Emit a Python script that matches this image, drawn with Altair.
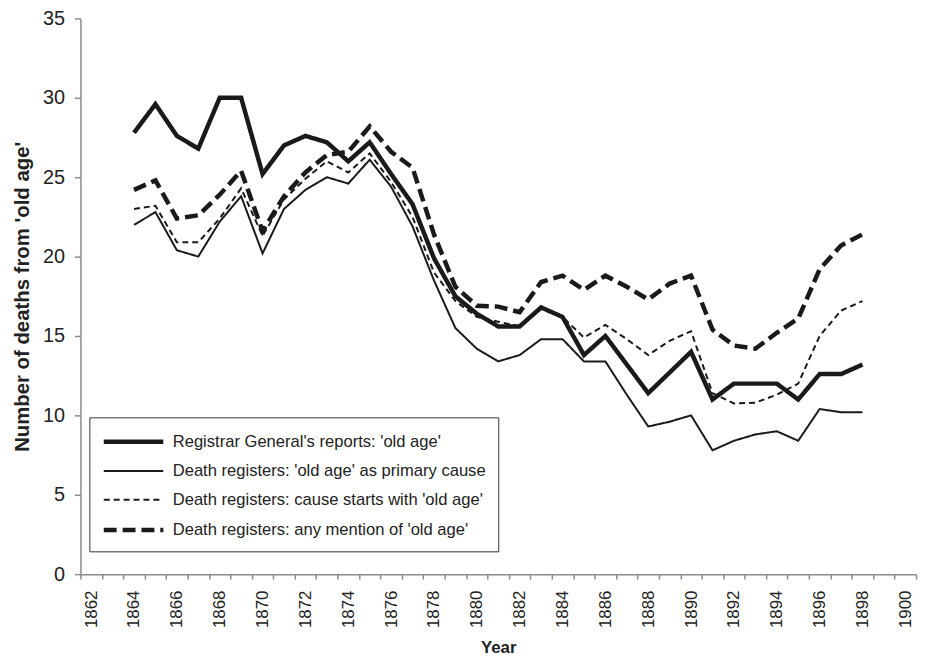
import altair as alt
import pandas as pd

years = list(range(1864, 1899))

series_names = [
    "Registrar General's reports: 'old age'",
    "Death registers: 'old age' as primary cause",
    "Death registers: cause starts with 'old age'",
    "Death registers: any mention of 'old age'",
]

registrar = [27.8, 29.6, 27.6, 26.8, 30.0, 30.0, 25.2, 27.0, 27.6, 27.2, 26.0, 27.2,
             25.2, 23.3, 19.9, 17.5, 16.4, 15.6, 15.6, 16.8, 16.2, 13.8, 15.0, 13.2,
             11.4, 12.7, 14.0, 11.0, 12.0, 12.0, 12.0, 11.0, 12.6, 12.6, 13.2]
primary = [22.0, 22.8, 20.4, 20.0, 22.2, 23.8, 20.2, 23.0, 24.2, 25.0, 24.6, 26.1,
           24.4, 21.9, 18.5, 15.5, 14.2, 13.4, 13.8, 14.8, 14.8, 13.4, 13.4, 11.3,
           9.3, 9.6, 10.0, 7.8, 8.4, 8.8, 9.0, 8.4, 10.4, 10.2, 10.2]
starts_with = [23.0, 23.2, 20.9, 20.9, 22.4, 24.3, 21.3, 23.6, 24.9, 26.0, 25.3, 26.5,
               24.7, 22.5, 19.0, 17.2, 16.2, 15.9, 15.6, 16.7, 16.2, 14.9, 15.7, 14.8,
               13.8, 14.7, 15.3, 11.4, 10.75, 10.8, 11.3, 12.0, 15.0, 16.6, 17.2]
any_mention = [24.2, 24.8, 22.4, 22.6, 23.9, 25.4, 21.6, 23.8, 25.3, 26.4, 26.6, 28.2,
               26.6, 25.6, 21.4, 18.1, 16.9, 16.85, 16.5, 18.4, 18.8, 17.9, 18.8, 18.1,
               17.3, 18.3, 18.8, 15.4, 14.4, 14.2, 15.2, 16.1, 19.2, 20.7, 21.4]

y_ticks = [0, 5, 10, 15, 20, 25, 30, 35]
x_tick_bounds = [y + 0.5 for y in range(1861, 1901)]

rows = []
for name, vals in zip(series_names, [registrar, primary, starts_with, any_mention]):
    for yr, v in zip(years, vals):
        rows.append({"Year": yr, "Value": v, "Series": name})
df = pd.DataFrame(rows)

FONT = "Liberation Sans"
AXIS_GRAY = "#8c8c8c"
INK = "#1a1a1a"

chart = alt.Chart(df).mark_line(color=INK, strokeCap="butt").encode(
    x=alt.X("Year:Q",
            scale=alt.Scale(domain=[1861.5, 1900.5], nice=False, zero=False),
            axis=alt.Axis(values=x_tick_bounds,
                          labelExpr="(datum.value + 0.5) % 2 == 0 ? format(datum.value + 0.5, 'd') : ''",
                          labelOffset=10.8, labelAngle=270, labelOverlap=False,
                          labelBound=False, labelFlush=False, labelFontSize=17,
                          grid=False, tickSize=5, labelPadding=11,
                          title="Year", titlePadding=12, titleFontSize=17)),
    y=alt.Y("Value:Q",
            scale=alt.Scale(domain=[0, 35], nice=False, zero=True),
            axis=alt.Axis(values=y_ticks, grid=False, tickSize=6, labelPadding=10,
                          labelFontSize=20,
                          title="Number of deaths from 'old age'", titlePadding=10,
                          titleFontSize=20.5)),
    strokeDash=alt.StrokeDash("Series:N",
                              scale=alt.Scale(domain=series_names,
                                              range=[[1, 0], [1, 0], [6, 4], [13, 6]]),
                              legend=alt.Legend(title=None)),
    strokeWidth=alt.StrokeWidth("Series:N",
                                scale=alt.Scale(type="ordinal", domain=series_names,
                                                range=[4.5, 2.0, 2.0, 4.5]),
                                legend=alt.Legend(title=None)),
).properties(
    width=842, height=560,
    autosize=alt.AutoSizeParams(type="none"),
    padding={"left": 73, "top": 8, "right": 5, "bottom": 84},
).configure_view(
    stroke=None
).configure_axis(
    domainColor=AXIS_GRAY, tickColor=AXIS_GRAY, domainWidth=1.5, tickWidth=1.5,
    labelFont=FONT, labelColor="#222222",
    titleFont=FONT, titleFontWeight="bold", titleColor="#222222",
).configure_legend(
    orient="none", legendX=9, legendY=402,
    strokeColor="#333333", fillColor="white", padding=12, cornerRadius=0,
    symbolType="M-1,0H5", symbolSize=400, symbolStrokeColor=INK,
    symbolFillColor="transparent",
    labelFont=FONT, labelFontSize=16.7, labelColor="#222222", labelOffset=47,
    rowPadding=9, labelLimit=600,
)

chart.save("out.html", embed_options={"renderer": "svg", "actions": False})
